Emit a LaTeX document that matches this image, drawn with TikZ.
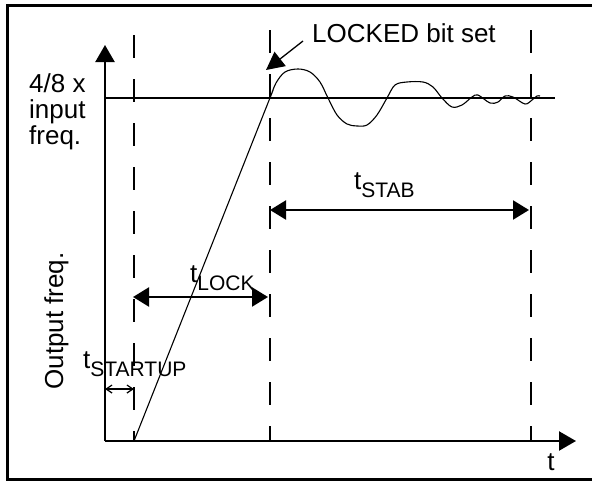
\documentclass[tikz,border=0pt]{standalone}
\usepackage{fontspec}
\setmainfont{Liberation Sans}
\usetikzlibrary{arrows.meta,positioning,calc}
\newcommand{\lbl}{\fontsize{26}{25.7}\selectfont}
\newcommand{\tsub}[1]{t\raisebox{-8pt}{\fontsize{21}{21}\selectfont #1}}

\begin{document}
\begin{tikzpicture}[x=1pt,y=-1pt,
    every node/.style={font=\lbl,inner sep=0pt},
    axis/.style={line width=2.3pt,-{Triangle[length=17pt,width=19pt]}},
    marker/.style={line width=2pt,dash pattern=on 23pt off 21pt},
    span/.style={line width=2.2pt,{Triangle[length=16pt,width=19pt]}-{Triangle[length=16pt,width=19pt]}},
    small/.style={line width=1.2pt,{Straight Barb[length=6pt,width=8pt]}-{Straight Barb[length=6pt,width=8pt]}}]
    \useasboundingbox (0,0) rectangle (592,482);
    \draw[line width=3pt] (592,5) -- (7,5) -- (7,479) -- (592,479);
    \coordinate (o) at (105,441);
    \coordinate (ytop) at (105,45);
    \coordinate (xend) at (576,441);
    \draw[axis] (o) -- (ytop);
    \draw[axis] (o) -- (xend);
    \coordinate (lvl_l) at (105,98);
    \coordinate (lvl_r) at (555,98);
    \draw[line width=2pt] (lvl_l) -- (lvl_r);
    \foreach \n/\x/\y in {start/134/35,lock/270/30,stab/531/30}{
        \coordinate (\n_t) at (\x,\y);
        \coordinate (\n_b) at (\x,441);
        \draw[marker] (\n_t) -- (\n_b);
    }
    \draw[line width=1.1pt] plot[smooth,tension=0.55] coordinates {(134,441) (262,118) (270,98) (276,83) (285,72) (298,69) (310,72) (320,82) (328,98) (337,115) (347,124) (357,126) (367,125) (377,115) (387,98) (395,85) (407,82) (423,82) (433,87) (442,98) (452,107) (462,105) (472,97) (478,95) (490,103) (498,102) (505,96) (513,97) (525,104) (532,100) (537,96) (540,96)};
    \node[anchor=base west] (locked) at (312,42) {LOCKED bit set};
    \coordinate (lockpt) at (266,70);
    \draw[line width=1.3pt,-{Triangle[length=18pt,width=18pt]}] (303,41) -- (lockpt);
    \node[anchor=base west,align=left] (level) at (29,144) {4/8 x\\input\\freq.};
    \node[anchor=base,rotate=90] (yname) at (63,321) {Output freq.};
    \node[anchor=base] (xname) at (551,470) {t};
    \coordinate (lk_l) at (133,297);
    \coordinate (lk_r) at (268,297);
    \draw[span] (lk_l) -- (lk_r);
    \node[anchor=base west] (tlock) at (190,282) {\tsub{LOCK}};
    \coordinate (st_l) at (270,210);
    \coordinate (st_r) at (529,210);
    \draw[span] (st_l) -- (st_r);
    \node[anchor=base west] (tstab) at (354,189) {\tsub{STAB}};
    \coordinate (su_l) at (105,389);
    \coordinate (su_r) at (134,389);
    \draw[small] (su_l) -- (su_r);
    \node[anchor=base west] (tstart) at (83,368) {\tsub{STARTUP}};
\end{tikzpicture}
\end{document}
